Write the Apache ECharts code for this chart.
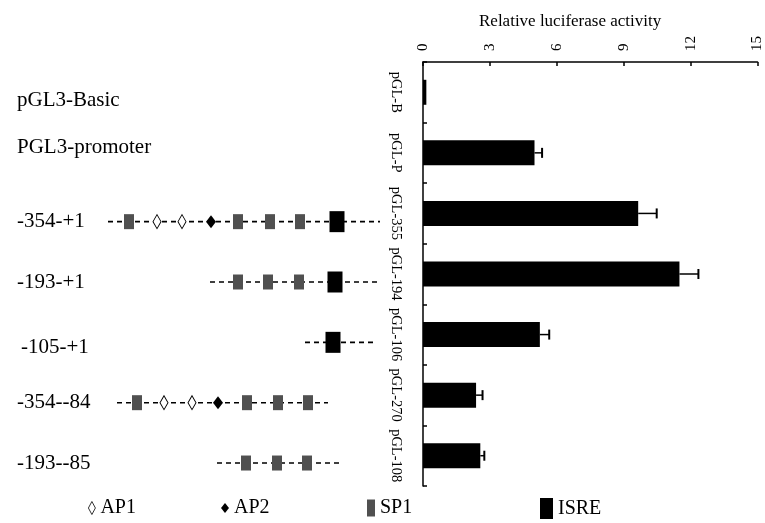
<!DOCTYPE html>
<html><head><meta charset="utf-8">
<script src="https://cdn.jsdelivr.net/npm/echarts/dist/echarts.min.js"></script>
<style>html,body{margin:0;padding:0;background:#fff}#c{width:765px;height:523px}</style>
</head><body><div id="c"></div>
<script>
// ---- data ----
const barCategories = ['pGL-B','pGL-P','pGL-355','pGL-194','pGL-106','pGL-270','pGL-108'];
const activity = [0.15, 5.0, 9.65, 11.5, 5.24, 2.38, 2.57];
const activityErr = [0, 0.34, 0.83, 0.85, 0.42, 0.29, 0.18];
const xTicks = [0, 3, 6, 9, 12, 15];
const constructNames = ['pGL3-Basic','PGL3-promoter','-354-+1','-193-+1','-105-+1','-354--84','-193--85'];
// schematic track extents (diagram units) per construct row; null = no schematic
const trackStart = [null, null, 108, 210, 305, 117, 217];
const trackEnd   = [null, null, 380, 378, 377, 328, 340];
// motif positions: [schematic position, construct row]
const ap1Sites  = [[157,2],[182,2],[164,5],[192,5]];
const ap2Sites  = [[211,2],[218,5]];
const sp1Sites  = [[129,2],[238,2],[270,2],[300,2],[238,3],[268,3],[299,3],[137,5],[247,5],[278,5],[308,5],[246,6],[277,6],[307,6]];
const isreSites = [[337,2],[335,3],[333,4]];

const FONT = 'Liberation Serif';
const chart = echarts.init(document.getElementById('c'));

const trackSeries = trackStart.map((s, i) => s === null ? null : ({
  type: 'line', xAxisIndex: 0, yAxisIndex: 0, silent: true, symbol: 'none', z: 1,
  data: [[s, i], [trackEnd[i], i]],
  lineStyle: { color: '#000', width: 1.6, type: [5, 4] }
})).filter(Boolean);

const option = {
  animation: false,
  backgroundColor: '#fff',
  title: {
    text: 'Relative luciferase activity', left: 474, top: 8,
    textStyle: { fontFamily: FONT, fontSize: 17, fontWeight: 'normal', color: '#000' }
  },
  legend: [
    { data: [{ name: 'AP1', itemStyle: { color: '#fff', borderColor: '#000', borderWidth: 0.8 } }], left: 88, top: 498, itemWidth: 7, itemHeight: 13 },
    { data: ['AP2'], left: 221, top: 498, itemWidth: 8, itemHeight: 10 },
    { data: ['SP1'], left: 367, top: 498, itemWidth: 8, itemHeight: 17 },
    { data: ['ISRE'], left: 540, top: 498, itemWidth: 13, itemHeight: 21 }
  ].map(l => Object.assign(l, {
    selectedMode: false, padding: 0,
    textStyle: { fontFamily: FONT, fontSize: 20, color: '#000' }
  })),
  grid: [
    { left: 0, right: 365, top: 70.8, bottom: 29.8 },
    { left: 423, right: 0, top: 62, bottom: 37 }
  ],
  xAxis: [
    { gridIndex: 0, type: 'value', min: 0, max: 400, show: false },
    { gridIndex: 1, type: 'value', position: 'top', min: xTicks[0], max: xTicks[xTicks.length - 1], interval: xTicks[1] - xTicks[0],
      axisLine: { show: true, lineStyle: { color: '#000', width: 1.5 } },
      axisTick: { show: true, inside: true, length: 4, lineStyle: { color: '#000', width: 1.5 } },
      axisLabel: { rotate: -90, margin: 11, fontFamily: FONT, fontSize: 15, color: '#000', hideOverlap: false },
      splitLine: { show: false } }
  ],
  yAxis: [
    { gridIndex: 0, type: 'category', inverse: true, data: constructNames,
      axisLine: { show: false }, axisTick: { show: false },
      axisLabel: { inside: true, margin: 17, fontFamily: FONT, fontSize: 21, color: '#000',
        formatter: (v, i) => i === 1 ? '{up|' + v + '}' : (i === 4 ? '{dn|' + v + '}' : v),
        rich: {
          up: { fontFamily: FONT, fontSize: 21, color: '#000', padding: [0, 0, 28, 0] },
          dn: { fontFamily: FONT, fontSize: 21, color: '#000', padding: [10, 0, 0, 4] }
        } } },
    { gridIndex: 1, type: 'category', inverse: true, data: barCategories,
      axisLine: { show: true, lineStyle: { color: '#000', width: 1.5 } },
      axisTick: { show: true, inside: true, length: 4, lineStyle: { color: '#000', width: 1.5 } },
      axisLabel: { rotate: -90, margin: 20, interval: 0, hideOverlap: false, fontFamily: FONT, fontSize: 14.5, color: '#000' } }
  ],
  series: [
    ...trackSeries,
    { name: 'AP1', type: 'scatter', xAxisIndex: 0, yAxisIndex: 0, z: 3, data: ap1Sites,
      symbol: 'diamond', symbolSize: [8, 14], itemStyle: { color: '#fff', borderColor: '#000', borderWidth: 1, opacity: 1 } },
    { name: 'AP2', type: 'scatter', xAxisIndex: 0, yAxisIndex: 0, z: 3, data: ap2Sites,
      symbol: 'diamond', symbolSize: [10, 13], itemStyle: { color: '#000', opacity: 1 } },
    { name: 'SP1', type: 'scatter', xAxisIndex: 0, yAxisIndex: 0, z: 3, data: sp1Sites,
      symbol: 'rect', symbolSize: [10, 15], itemStyle: { color: '#505050', opacity: 1 } },
    { name: 'ISRE', type: 'scatter', xAxisIndex: 0, yAxisIndex: 0, z: 3, data: isreSites,
      symbol: 'rect', symbolSize: [15, 21], itemStyle: { color: '#000', opacity: 1 } },
    { name: 'activity', type: 'bar', xAxisIndex: 1, yAxisIndex: 1, data: activity, barWidth: 25,
      itemStyle: { color: '#000' } },
    { name: 'err', type: 'custom', xAxisIndex: 1, yAxisIndex: 1, z: 4,
      data: activity.map((v, i) => [v, i, activityErr[i]]),
      encode: { x: 0, y: 1 },
      renderItem: (params, api) => {
        const v = api.value(0), i = api.value(1), e = api.value(2);
        if (!e) return null;
        const p0 = api.coord([v, i]);
        const p1 = api.coord([v + e, i]);
        return { type: 'group', children: [
          { type: 'line', shape: { x1: p0[0], y1: p0[1], x2: p1[0], y2: p1[1] }, style: { stroke: '#000', lineWidth: 1.5 } },
          { type: 'line', shape: { x1: p1[0], y1: p1[1] - 5, x2: p1[0], y2: p1[1] + 5 }, style: { stroke: '#000', lineWidth: 2 } }
        ] };
      } }
  ]
};
chart.setOption(option);
</script></body></html>
